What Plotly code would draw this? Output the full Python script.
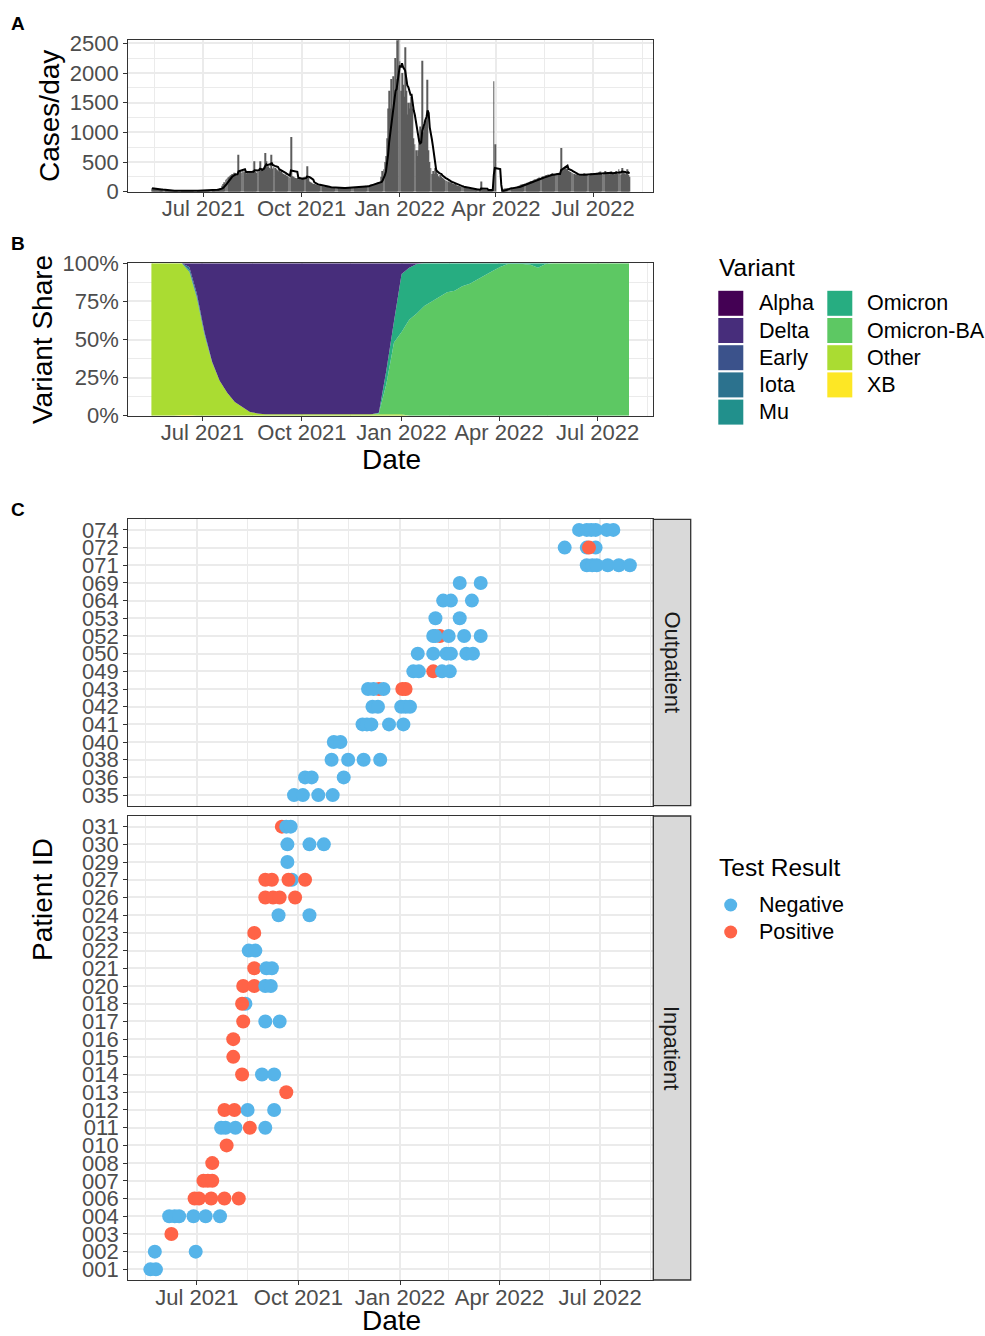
import pandas as pd
import plotly.graph_objects as go

FONT = "Liberation Sans, Arial, Helvetica, sans-serif"
W, H = 985, 1336

# ---------------- Panel A: daily cases ----------------
case_month_starts = ["2021-05-14", "2021-06-01", "2021-07-01", "2021-08-01", "2021-09-01",
                     "2021-10-01", "2021-11-01", "2021-12-01", "2022-01-01", "2022-02-01",
                     "2022-03-01", "2022-04-01", "2022-05-01", "2022-06-01", "2022-07-01",
                     "2022-08-01"]
cases_2021_05 = [60, 58, 52, 48, 45, 40, 38, 35, 33, 30, 28, 26, 25, 22, 21, 20, 19, 18]
cases_2021_06 = [17, 18, 16, 15, 17, 14, 16, 15, 13, 16, 14, 15, 13, 16, 15, 14, 17, 15, 16, 14,
                 18, 17, 15, 16, 17, 18, 16, 20, 19, 17]
cases_2021_07 = [18, 20, 22, 18, 25, 24, 21, 26, 28, 30, 26, 35, 38, 40, 45, 50, 55, 60, 100, 130,
                 160, 200, 220, 240, 250, 270, 280, 300, 290, 320, 310]
cases_2021_08 = [260, 300, 623, 330, 350, 320, 360, 340, 320, 300, 330, 310, 340, 350, 330, 320,
                 360, 512, 330, 320, 340, 330, 512, 350, 380, 400, 420, 650, 512, 420, 430]
cases_2021_09 = [400, 380, 623, 390, 420, 400, 380, 360, 340, 370, 330, 350, 310, 300, 280, 290,
                 270, 260, 250, 240, 920, 260, 250, 240, 230, 220, 230, 210, 220, 200]
cases_2021_10 = [230, 220, 240, 250, 210, 428, 230, 170, 160, 150, 140, 130, 130, 120, 115, 110,
                 100, 105, 95, 90, 88, 85, 82, 80, 78, 75, 72, 70, 68, 66, 65]
cases_2021_11 = [62, 60, 58, 65, 55, 60, 62, 58, 64, 60, 66, 62, 58, 70, 65, 68, 72, 66, 70, 75,
                 72, 68, 74, 78, 70, 80, 76, 85, 82, 90]
cases_2021_12 = [100, 110, 105, 115, 120, 118, 125, 130, 135, 140, 150, 155, 160, 150, 250, 350,
                 380, 500, 600, 900, 1400, 1700, 1400, 1900, 1200, 1944, 1500, 2253, 1900, 2550, 2556]
cases_2022_01 = [2200, 1700, 2000, 1800, 1600, 2433, 1700, 1300, 1500, 1400, 1500, 1600, 1400, 900,
                 800, 700, 600, 700, 900, 1100, 1000, 2208, 1000, 1100, 1200, 1200, 1887, 700, 500,
                 400, 300]
cases_2022_02 = [350, 300, 400, 350, 300, 260, 240, 280, 250, 230, 220, 200, 190, 180, 170, 160,
                 150, 160, 140, 130, 120, 140, 110, 100, 95, 90, 85, 80]
cases_2022_03 = [75, 70, 68, 62, 58, 55, 50, 48, 45, 42, 40, 38, 35, 33, 30, 28, 30, 170, 25, 28,
                 30, 26, 28, 30, 25, 27, 30, 28, 30, 1860, 800]
cases_2022_04 = [0, 0, 0, 0, 0, 0, 40, 45, 50, 55, 48, 60, 52, 58, 65, 55, 70, 62, 75, 68, 80, 90,
                 100, 110, 120, 115, 130, 140, 135, 150]
cases_2022_05 = [150, 160, 170, 180, 175, 190, 200, 210, 195, 220, 230, 240, 225, 250, 260, 240,
                 270, 280, 260, 290, 270, 280, 300, 310, 290, 300, 280, 310, 290, 320, 300]
cases_2022_06 = [736, 380, 360, 400, 420, 380, 390, 350, 340, 330, 320, 310, 300, 290, 280, 300,
                 270, 290, 280, 300, 270, 290, 310, 280, 300, 290, 270, 300, 310, 290]
cases_2022_07 = [290, 310, 280, 300, 320, 290, 330, 340, 300, 280, 320, 350, 310, 300, 330, 290,
                 320, 340, 300, 310, 290, 330, 350, 300, 380, 320, 290, 400, 330, 310, 290]
cases_2022_08 = [300, 380, 280, 250]
case_months = [cases_2021_05, cases_2021_06, cases_2021_07, cases_2021_08, cases_2021_09,
               cases_2021_10, cases_2021_11, cases_2021_12, cases_2022_01, cases_2022_02,
               cases_2022_03, cases_2022_04, cases_2022_05, cases_2022_06, cases_2022_07,
               cases_2022_08]

case_dates, case_values = [], []
for start, vals in zip(case_month_starts, case_months):
    case_dates += list(pd.date_range(start, periods=len(vals), freq="D"))
    case_values += vals
avg7 = pd.Series(case_values).rolling(7, min_periods=1).mean()

# ---------------- Panel B: variant shares (weekly, %) ----------------
week_start = "2021-05-15"
variant_names = ["Alpha", "Delta", "Early", "Iota", "Mu", "Omicron", "Omicron-BA", "Other", "XB"]
variant_colors = ["#440154", "#472D7B", "#3B528B", "#2C728E", "#21908C",
                  "#27AD81", "#5DC863", "#AADC32", "#FDE725"]
share_alpha = [0, 0, 0, 0, 0, 0, 0, 0, 0, 0, 0, 0, 0, 0, 0, 0,
               0, 0, 0, 0, 0, 0, 0, 0, 0, 0, 0, 0, 0, 0, 0, 0,
               0, 0, 0, 0, 0, 0, 0, 0, 0, 0, 0, 0, 0, 0, 0, 0,
               0, 0, 0, 0, 0, 0, 0, 0, 0, 0, 0, 0, 0, 0, 0, 0]
share_delta = [0, 0, 0, 0, 0, 2.5, 20, 45, 64.5, 77, 85, 91, 94.5, 97.5, 98.5, 99,
               99, 99, 99, 99, 99, 99, 99, 99, 99, 99, 99, 99, 99, 99, 98, 70,
               38, 7, 3, 0.5, 0, 0, 0, 0, 0, 0, 0, 0, 0, 0, 0, 0,
               0, 0, 0, 0, 0, 0, 0, 0, 0, 0, 0, 0, 0, 0, 0, 0]
share_early = [0, 0, 0, 0, 0, 0, 0, 0, 0, 0, 0, 0, 0, 0, 0, 0,
               0, 0, 0, 0, 0, 0, 0, 0, 0, 0, 0, 0, 0, 0, 0, 0,
               0, 0, 0, 0, 0, 0, 0, 0, 0, 0, 0, 0, 0, 0, 0, 0,
               0, 0, 0, 0, 0, 0, 0, 0, 0, 0, 0, 0, 0, 0, 0, 0]
share_iota = [0, 0, 0, 0, 0, 2, 2, 1, 0.5, 0, 0, 0, 0, 0, 0, 0,
              0, 0, 0, 0, 0, 0, 0, 0, 0, 0, 0, 0, 0, 0, 0, 0,
              0, 0, 0, 0, 0, 0, 0, 0, 0, 0, 0, 0, 0, 0, 0, 0,
              0, 0, 0, 0, 0, 0, 0, 0, 0, 0, 0, 0, 0, 0, 0, 0]
share_mu = [0, 0, 0, 0, 0, 1, 1, 1, 0, 0, 0, 0, 0, 0, 0, 0,
            0, 0, 0, 0, 0, 0, 0, 0, 0, 0, 0, 0, 0, 0, 0, 0,
            0, 0, 0, 0, 0, 0, 0, 0, 0, 0, 0, 0, 0, 0, 0, 0,
            0, 0, 0, 0, 0, 0, 0, 0, 0, 0, 0, 0, 0, 0, 0, 0]
share_omicron = [0, 0, 0, 0, 0, 0, 0, 0, 0, 0, 0, 0, 0, 0, 0, 0,
                 0, 0, 0, 0, 0, 0, 0, 0, 0, 0, 0, 0, 0, 0, 0.5, 9,
                 14, 38, 34, 32.5, 28, 25, 22, 19, 18, 15, 13.5, 10.5, 8, 5, 2.5, 0.5,
                 0.5, 0.5, 1, 3, 0.5, 0, 0, 0, 0, 0, 0, 0, 0, 0, 0, 0]
share_omicron_ba = [0, 0, 0, 0, 0, 0, 0, 0, 0, 0, 0, 0, 0, 0, 0, 0,
                    0, 0, 0, 0, 0, 0, 0, 0, 0, 0, 0, 0, 0, 0, 0.5, 20,
                    47, 54, 63, 67, 72, 75, 78, 81, 82, 85, 86.5, 89.5, 92, 95, 97.5, 99.5,
                    99.5, 99.5, 99, 97, 99.5, 100, 100, 100, 100, 100, 100, 100, 100, 100, 100, 100]
share_other = [100, 100, 100, 100, 99.5, 94, 77, 53, 35, 23, 15, 9, 5.5, 2.5, 1.5, 1,
               1, 1, 1, 1, 1, 1, 1, 1, 1, 1, 1, 1, 1, 1, 1, 1,
               1, 1, 0, 0, 0, 0, 0, 0, 0, 0, 0, 0, 0, 0, 0, 0,
               0, 0, 0, 0, 0, 0, 0, 0, 0, 0, 0, 0, 0, 0, 0, 0]
share_xb = [0, 0, 0, 0, 0.5, 0.5, 0, 0, 0, 0, 0, 0, 0, 0, 0, 0,
            0, 0, 0, 0, 0, 0, 0, 0, 0, 0, 0, 0, 0, 0, 0, 0,
            0, 0, 0, 0, 0, 0, 0, 0, 0, 0, 0, 0, 0, 0, 0, 0,
            0, 0, 0, 0, 0, 0, 0, 0, 0, 0, 0, 0, 0, 0, 0, 0]
variant_shares = {"Alpha": share_alpha, "Delta": share_delta, "Early": share_early,
                  "Iota": share_iota, "Mu": share_mu, "Omicron": share_omicron,
                  "Omicron-BA": share_omicron_ba, "Other": share_other, "XB": share_xb}
week_dates = pd.date_range(week_start, periods=len(share_delta), freq="7D")

# ---------------- Panel C: patient tests ----------------
outpatient_ids = ["035", "036", "038", "040", "041", "042", "043", "049", "050", "052",
                  "053", "064", "069", "071", "072", "074"]
inpatient_ids = ["001", "002", "003", "004", "006", "007", "008", "010", "011", "012", "013",
                 "014", "015", "016", "017", "018", "020", "021", "022", "023", "024", "026",
                 "027", "029", "030", "031"]
outpatient_tests = [
    ("035", "2021-09-27", "Negative"), ("035", "2021-10-05", "Negative"),
    ("035", "2021-10-19", "Negative"), ("035", "2021-11-01", "Negative"),
    ("036", "2021-10-07", "Negative"), ("036", "2021-10-13", "Negative"),
    ("036", "2021-11-11", "Negative"),
    ("038", "2021-10-31", "Negative"), ("038", "2021-11-15", "Negative"),
    ("038", "2021-11-29", "Negative"), ("038", "2021-12-14", "Negative"),
    ("040", "2021-11-02", "Negative"), ("040", "2021-11-08", "Negative"),
    ("041", "2021-11-28", "Negative"), ("041", "2021-12-02", "Negative"),
    ("041", "2021-12-06", "Negative"), ("041", "2021-12-22", "Negative"),
    ("041", "2022-01-04", "Negative"),
    ("042", "2021-12-07", "Negative"), ("042", "2021-12-12", "Negative"),
    ("042", "2022-01-02", "Negative"), ("042", "2022-01-06", "Negative"),
    ("042", "2022-01-10", "Negative"),
    ("043", "2021-12-13", "Positive"), ("043", "2021-12-03", "Negative"),
    ("043", "2021-12-08", "Negative"), ("043", "2021-12-17", "Negative"),
    ("043", "2022-01-03", "Positive"), ("043", "2022-01-06", "Positive"),
    ("049", "2022-01-13", "Negative"), ("049", "2022-01-18", "Negative"),
    ("049", "2022-01-31", "Positive"), ("049", "2022-02-08", "Negative"),
    ("049", "2022-02-15", "Negative"),
    ("050", "2022-01-17", "Negative"), ("050", "2022-01-31", "Negative"),
    ("050", "2022-02-12", "Negative"), ("050", "2022-02-16", "Negative"),
    ("050", "2022-03-02", "Negative"), ("050", "2022-03-08", "Negative"),
    ("052", "2022-02-06", "Positive"), ("052", "2022-01-31", "Negative"),
    ("052", "2022-02-02", "Negative"), ("052", "2022-02-14", "Negative"),
    ("052", "2022-02-28", "Negative"), ("052", "2022-03-15", "Negative"),
    ("053", "2022-02-02", "Negative"), ("053", "2022-02-24", "Negative"),
    ("064", "2022-02-09", "Negative"), ("064", "2022-02-16", "Negative"),
    ("064", "2022-03-07", "Negative"),
    ("069", "2022-02-24", "Negative"), ("069", "2022-03-15", "Negative"),
    ("071", "2022-06-19", "Negative"), ("071", "2022-06-24", "Negative"),
    ("071", "2022-06-28", "Negative"), ("071", "2022-07-08", "Negative"),
    ("071", "2022-07-18", "Negative"), ("071", "2022-07-28", "Negative"),
    ("072", "2022-05-30", "Negative"), ("072", "2022-06-19", "Negative"),
    ("072", "2022-06-27", "Negative"), ("072", "2022-06-21", "Positive"),
    ("074", "2022-06-12", "Negative"), ("074", "2022-06-19", "Negative"),
    ("074", "2022-06-23", "Negative"), ("074", "2022-06-27", "Negative"),
    ("074", "2022-07-07", "Negative"), ("074", "2022-07-13", "Negative"),
]
inpatient_tests = [
    ("001", "2021-05-20", "Negative"), ("001", "2021-05-25", "Negative"),
    ("002", "2021-05-24", "Negative"), ("002", "2021-06-30", "Negative"),
    ("003", "2021-06-08", "Positive"),
    ("004", "2021-06-06", "Negative"), ("004", "2021-06-11", "Negative"),
    ("004", "2021-06-15", "Negative"), ("004", "2021-06-28", "Negative"),
    ("004", "2021-07-09", "Negative"), ("004", "2021-07-22", "Negative"),
    ("006", "2021-06-29", "Positive"), ("006", "2021-07-03", "Positive"),
    ("006", "2021-07-14", "Positive"), ("006", "2021-07-26", "Positive"),
    ("006", "2021-08-08", "Positive"),
    ("007", "2021-07-07", "Positive"), ("007", "2021-07-11", "Positive"),
    ("007", "2021-07-15", "Positive"),
    ("008", "2021-07-15", "Positive"),
    ("010", "2021-07-28", "Positive"),
    ("011", "2021-07-23", "Negative"), ("011", "2021-07-27", "Negative"),
    ("011", "2021-08-05", "Negative"), ("011", "2021-08-18", "Positive"),
    ("011", "2021-09-01", "Negative"),
    ("012", "2021-07-26", "Positive"), ("012", "2021-08-04", "Positive"),
    ("012", "2021-08-16", "Negative"), ("012", "2021-09-09", "Negative"),
    ("013", "2021-09-20", "Positive"),
    ("014", "2021-08-11", "Positive"), ("014", "2021-08-29", "Negative"),
    ("014", "2021-09-09", "Negative"),
    ("015", "2021-08-03", "Positive"),
    ("016", "2021-08-03", "Positive"),
    ("017", "2021-08-12", "Positive"), ("017", "2021-09-01", "Negative"),
    ("017", "2021-09-14", "Negative"),
    ("018", "2021-08-14", "Negative"), ("018", "2021-08-11", "Positive"),
    ("020", "2021-08-12", "Positive"), ("020", "2021-08-22", "Positive"),
    ("020", "2021-09-01", "Negative"), ("020", "2021-09-06", "Negative"),
    ("021", "2021-08-22", "Positive"), ("021", "2021-09-02", "Negative"),
    ("021", "2021-09-07", "Negative"),
    ("022", "2021-08-17", "Negative"), ("022", "2021-08-23", "Negative"),
    ("023", "2021-08-22", "Positive"),
    ("024", "2021-09-13", "Negative"), ("024", "2021-10-11", "Negative"),
    ("026", "2021-09-01", "Positive"), ("026", "2021-09-08", "Positive"),
    ("026", "2021-09-14", "Positive"), ("026", "2021-09-28", "Positive"),
    ("027", "2021-09-25", "Negative"), ("027", "2021-09-01", "Positive"),
    ("027", "2021-09-07", "Positive"), ("027", "2021-09-22", "Positive"),
    ("027", "2021-10-07", "Positive"),
    ("029", "2021-09-21", "Negative"),
    ("030", "2021-09-21", "Negative"), ("030", "2021-10-11", "Negative"),
    ("030", "2021-10-24", "Negative"),
    ("031", "2021-09-16", "Positive"), ("031", "2021-09-20", "Negative"),
    ("031", "2021-09-24", "Negative"),
]
result_colors = {"Negative": "#56B4E9", "Positive": "#FF6347"}

# ---------------- axis ticks ----------------
major_dates = ["2021-07-01", "2021-10-01", "2022-01-01", "2022-04-01", "2022-07-01"]
major_labels = ["Jul 2021", "Oct 2021", "Jan 2022", "Apr 2022", "Jul 2022"]
minor_dates = ["2021-05-16", "2021-08-16", "2021-11-15", "2022-02-14", "2022-05-16", "2022-08-16"]
case_ticks = [0, 500, 1000, 1500, 2000, 2500]
case_minor = [250, 750, 1250, 1750, 2250]
share_ticks = [0, 25, 50, 75, 100]
share_labels = ["0%", "25%", "50%", "75%", "100%"]
share_minor = [12.5, 37.5, 62.5, 87.5]


def fx(p):
    return p / W


def fy(p):
    return 1 - p / H


PLOT_L, PLOT_R = 128.3, 653.3
GRID = "#EBEBEB"

fig = go.Figure()

# Panel A
fig.add_trace(go.Bar(x=case_dates, y=case_values, marker=dict(color="#5C5C5C", line=dict(width=0)),
                     xaxis="x", yaxis="y", showlegend=False, hoverinfo="x+y"))
fig.add_trace(go.Scatter(x=case_dates, y=avg7, mode="lines", line=dict(color="black", width=2),
                         xaxis="x", yaxis="y", showlegend=False))

# Panel B (stack from bottom to top)
for name in ["XB", "Other", "Omicron-BA", "Omicron", "Mu", "Iota", "Early", "Delta", "Alpha"]:
    col = variant_colors[variant_names.index(name)]
    fig.add_trace(go.Scatter(x=week_dates, y=variant_shares[name], name=name, stackgroup="v",
                             mode="lines", line=dict(width=0, color=col), fillcolor=col,
                             xaxis="x2", yaxis="y2", showlegend=False))

# Panel C
for tests, xa, ya in [(outpatient_tests, "x3", "y3"), (inpatient_tests, "x4", "y4")]:
    fig.add_trace(go.Scatter(
        x=[t[1] for t in tests], y=[t[0] for t in tests], mode="markers",
        marker=dict(size=14, color=[result_colors[t[2]] for t in tests], line=dict(width=0)),
        text=[t[2] for t in tests], xaxis=xa, yaxis=ya, showlegend=False))

tickfont = dict(family=FONT, size=22, color="#4D4D4D")
base_axis = dict(showline=True, linecolor="#333333", linewidth=1.3, mirror=True,
                 ticks="outside", ticklen=4, tickwidth=1.3, tickcolor="#333333",
                 tickfont=tickfont, showgrid=True, gridcolor=GRID, gridwidth=1.8,
                 zeroline=False, automargin=False, fixedrange=True)


def date_axis(rng, anchor, labels=True):
    d = dict(base_axis, type="date", range=rng, anchor=anchor, domain=[fx(PLOT_L), fx(PLOT_R)],
             tickmode="array", tickvals=major_dates, ticktext=major_labels,
             ticklabelstandoff=-7,
             minor=dict(tickmode="array", tickvals=minor_dates, showgrid=True, gridcolor=GRID,
                        gridwidth=0.9))
    if not labels:
        d.update(showticklabels=False, ticks="")
    return d


fig.update_layout(
    width=W, height=H, margin=dict(l=0, r=0, t=0, b=0),
    paper_bgcolor="white", plot_bgcolor="white", bargap=0.15, showlegend=False,
    font=dict(family=FONT),
    xaxis=date_axis(["2021-04-21 18:00", "2022-08-26 08:00"], "y"),
    yaxis=dict(base_axis, range=[0, 2556], anchor="x", domain=[fy(191.7), fy(40)],
               tickmode="array", tickvals=case_ticks,
               minor=dict(tickmode="array", tickvals=case_minor, showgrid=True, gridcolor=GRID,
                          gridwidth=0.9)),
    xaxis2=date_axis(["2021-04-23 16:00", "2022-08-21 10:00"], "y2"),
    yaxis2=dict(base_axis, range=[0, 100], anchor="x2", domain=[fy(415.7), fy(263.3)],
                tickmode="array", tickvals=share_ticks, ticktext=share_labels,
                minor=dict(tickmode="array", tickvals=share_minor, showgrid=True, gridcolor=GRID,
                           gridwidth=0.9)),
    xaxis3=date_axis(["2021-04-30", "2022-08-18 05:00"], "y3", labels=False),
    yaxis3=dict(base_axis, type="category", categoryorder="array", categoryarray=outpatient_ids,
                tickmode="array", tickvals=outpatient_ids, ticktext=outpatient_ids,
                range=[-0.6, len(outpatient_ids) - 0.4], anchor="x3",
                domain=[fy(805.7), fy(519.3)]),
    xaxis4=date_axis(["2021-04-30", "2022-08-18 05:00"], "y4"),
    yaxis4=dict(base_axis, type="category", categoryorder="array", categoryarray=inpatient_ids,
                tickmode="array", tickvals=inpatient_ids, ticktext=inpatient_ids,
                range=[-0.6, len(inpatient_ids) - 0.4], anchor="x4",
                domain=[fy(1280), fy(816)]),
)

shapes = []
annotations = []


def text(s, x, y, size, color="black", angle=0, xanchor="center", bold=False):
    annotations.append(dict(text=f"<b>{s}</b>" if bold else s, x=fx(x), y=fy(y), xref="paper",
                            yref="paper", showarrow=False, xanchor=xanchor, yanchor="middle",
                            textangle=angle, font=dict(family=FONT, size=size, color=color)))


# panel tags
text("A", 18, 23, 19, bold=True)
text("B", 18, 243, 19, bold=True)
text("C", 18, 510, 19, bold=True)
# axis titles
text("Cases/day", 50, 116, 28, angle=-90)
text("Variant Share", 43, 340, 28, angle=-90)
text("Date", 391, 459, 28)
text("Date", 391, 1320, 28)
text("Patient ID", 42, 900, 28, angle=-90)

# facet strips
for y0, y1, lab in [(519.3, 805.7, "Outpatient"), (816, 1280, "Inpatient")]:
    shapes.append(dict(type="rect", xref="paper", yref="paper", x0=fx(653.3), x1=fx(690.7),
                       y0=fy(y1), y1=fy(y0), fillcolor="#D9D9D9",
                       line=dict(color="#333333", width=1.3)))
    text(lab, 672, (y0 + y1) / 2, 22, color="#1A1A1A", angle=90)

# Variant legend
text("Variant", 717, 267, 24.5, xanchor="left")
legend_cols = [(718.3, 757.3), (827.3, 865)]
for i, name in enumerate(variant_names):
    col_i, row_i = divmod(i, 5)
    sx, tx = legend_cols[col_i]
    cy = 303.3 + row_i * 27.2
    shapes.append(dict(type="rect", xref="paper", yref="paper", x0=fx(sx), x1=fx(sx + 25),
                       y0=fy(cy + 12.5), y1=fy(cy - 12.5),
                       fillcolor=variant_colors[i], line=dict(width=0)))
    text(name, tx, cy, 21.5, xanchor="left")

# Test result legend
text("Test Result", 717, 867, 24.5, xanchor="left")
for j, name in enumerate(["Negative", "Positive"]):
    cy = 905 + j * 27
    shapes.append(dict(type="circle", xref="paper", yref="paper", x0=fx(724.2), x1=fx(737.2),
                       y0=fy(cy + 6.5), y1=fy(cy - 6.5), fillcolor=result_colors[name],
                       line=dict(width=0)))
    text(name, 757, cy, 21.5, xanchor="left")

fig.update_layout(shapes=shapes, annotations=annotations)
fig.write_html("out.html")
